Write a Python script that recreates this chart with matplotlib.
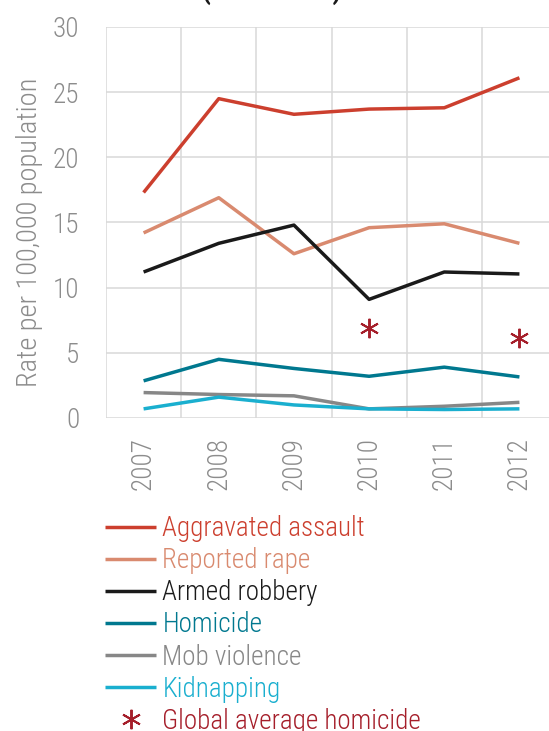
import numpy as np
import matplotlib.pyplot as plt
from matplotlib.ticker import MultipleLocator

plt.rcParams['font.family'] = ['Roboto Condensed', 'DejaVu Sans']
plt.rcParams['font.weight'] = 300

years = ['2007', '2008', '2009', '2010', '2011', '2012']

aggravated_assault = [17.3, 24.5, 23.3, 23.7, 23.8, 26.1]
reported_rape = [14.2, 16.9, 12.6, 14.6, 14.9, 13.4]
armed_robbery = [11.2, 13.4, 14.8, 9.1, 11.2, 11.05]
homicide = [2.85, 4.5, 3.8, 3.2, 3.9, 3.15]
mob_violence = [1.95, 1.8, 1.7, 0.7, 0.9, 1.2]
kidnapping = [0.7, 1.6, 1.0, 0.7, 0.65, 0.7]

global_years = ['2010', '2012']
global_homicide = [6.9, 6.1]

series = [
    ('Aggravated assault', aggravated_assault, '#cc3f2e'),
    ('Reported rape', reported_rape, '#d98a6f'),
    ('Armed robbery', armed_robbery, '#1a1a1a'),
    ('Homicide', homicide, '#00788f'),
    ('Mob violence', mob_violence, '#878787'),
    ('Kidnapping', kidnapping, '#1aafcf'),
]

fig = plt.figure(figsize=(5.49, 7.31), dpi=100)
ax = fig.add_axes([0.1931, 0.4282, 0.8215, 0.5349])

x = np.arange(len(years))
for name, vals, col in series:
    ax.plot(x, vals, color=col, lw=2.5, label=name, solid_capstyle='butt')

gx = [years.index(y) for y in global_years]
ax.plot(gx, global_homicide, ls='none', marker=(6, 2, 0), ms=14, mew=1.4,
        color='#a51e2a', label='Global average homicide')

ax.set_xlim(-0.5, 5.5)
ax.set_ylim(0, 30)
ax.set_xticks(x)
ax.set_xticklabels(years, rotation=90)
ax.xaxis.set_minor_locator(MultipleLocator(1, offset=0.5))
ax.yaxis.set_major_locator(MultipleLocator(5))
ax.grid(which='minor', axis='x', color='#d9d9d9', lw=1.1)
ax.grid(which='major', axis='y', color='#d9d9d9', lw=1.1)
ax.set_axisbelow(True)
for s in ax.spines.values():
    s.set_visible(False)
ax.tick_params(which='both', length=0, labelsize=19.5, colors='#8c8c8c')
ax.tick_params(axis='y', pad=19)
ax.tick_params(axis='x', pad=14)
for lab in ax.get_xticklabels():
    lab.set_va('top')

fig.text(30 / 549, 1 - 232 / 731, 'Rate per 100,000 population', rotation=90,
         ha='center', va='center', fontsize=20.5, color='#8c8c8c')

# title sits above the top edge
fig.text(272 / 549, 1 + 1 / 731, '(2007-2012)', ha='center', va='baseline',
         fontsize=20, fontweight='bold', color='#1a1a1a')

leg = fig.legend(loc='upper left', bbox_to_anchor=(105 / 549, 1 - 515 / 731),
                 frameon=False, fontsize=19.5, handlelength=1.9,
                 handletextpad=0.22, labelspacing=0.19, labelcolor='linecolor',
                 borderaxespad=0, borderpad=0)

fig.savefig('out.png', dpi=100)
